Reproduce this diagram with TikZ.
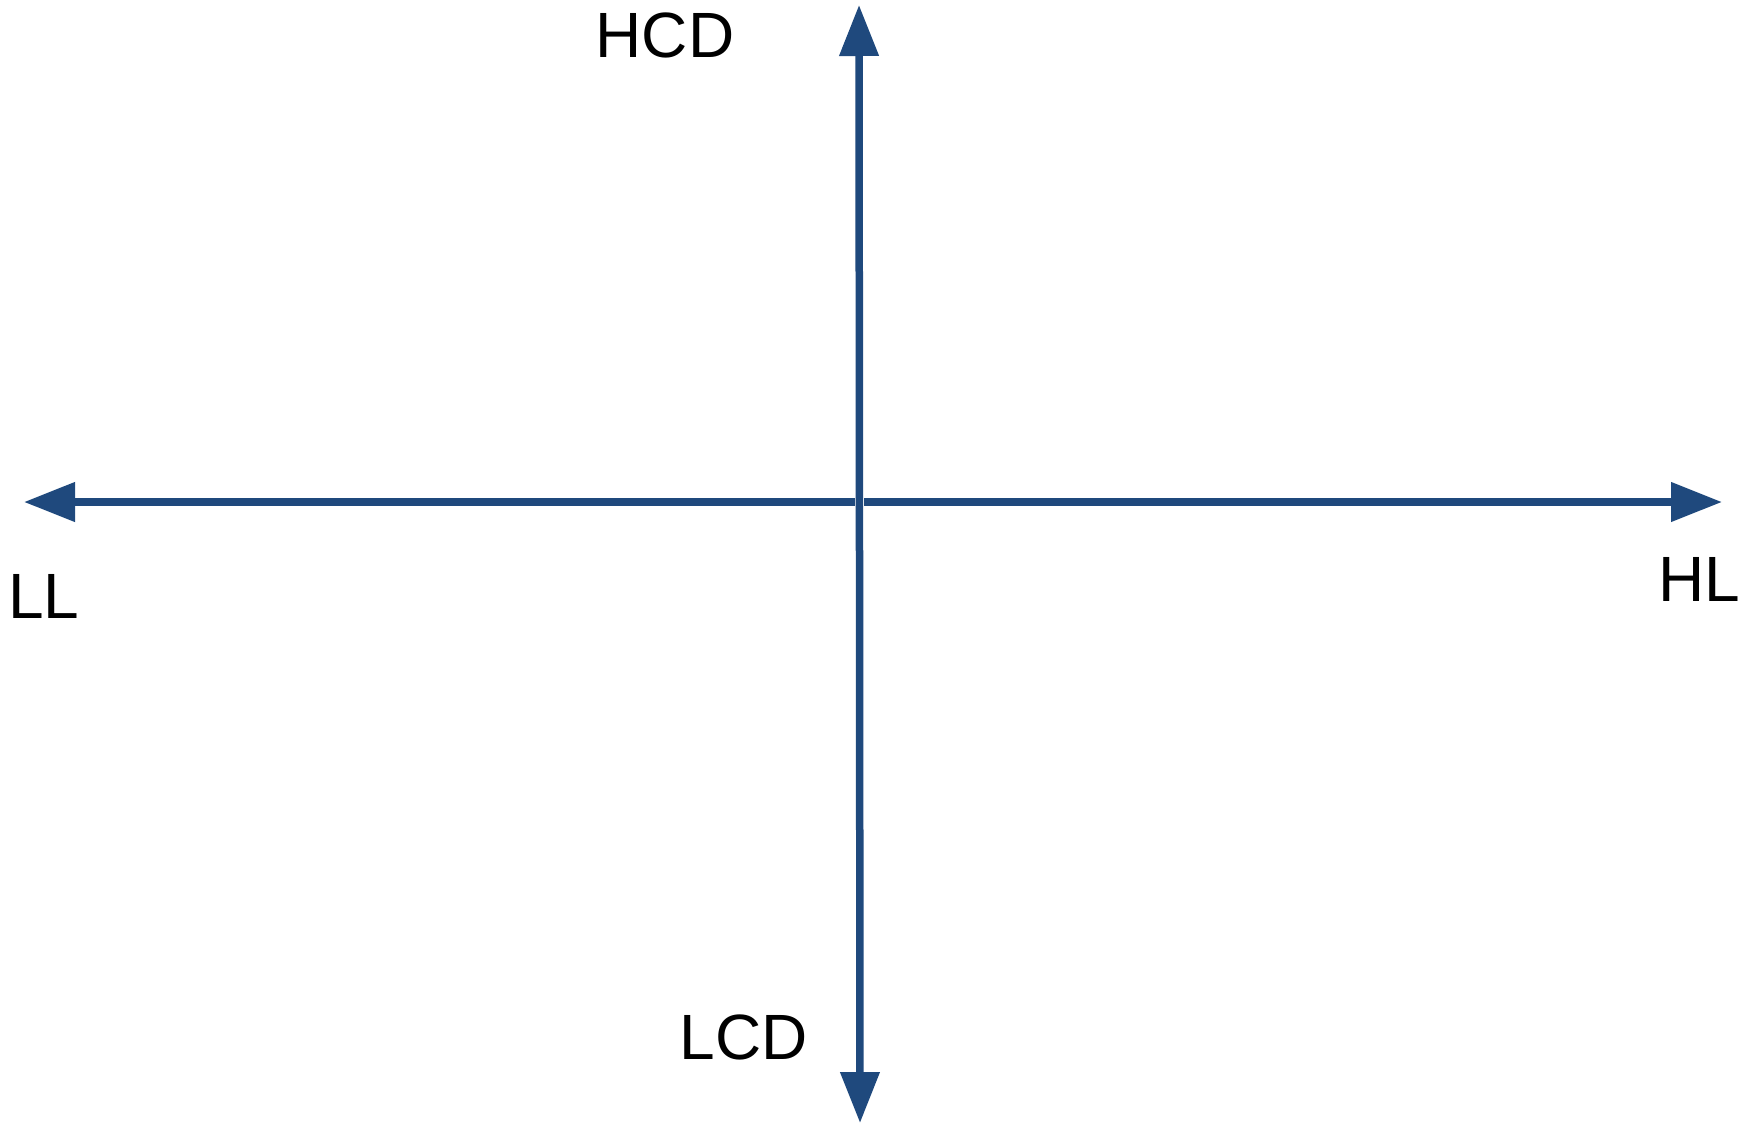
\documentclass[tikz,border=0pt]{standalone}
\usepackage{fontspec}
\setmainfont{Liberation Sans}
\usetikzlibrary{arrows.meta}
\definecolor{axisblue}{RGB}{31,73,125}
\begin{document}
\begin{tikzpicture}[x=1pt,y=-1pt,
  axis/.style={draw=axisblue,line width=7.5pt,
    {Triangle[length=51pt,width=38pt]}-{Triangle[length=51pt,width=38pt]}},
  halo/.style={preaction={draw=white,line width=8.7pt,-}},
  lbl/.style={inner sep=0pt,anchor=center,font=\fontsize{64}{76}\selectfont}]
\useasboundingbox (0,0) rectangle (1750,1125);
% axis end points
\coordinate (west) at (24,502);
\coordinate (east) at (1722,502);
\coordinate (north) at (859,5);
\coordinate (south) at (860,1123);
% axes; the vertical one sits on top with a thin white edge
\draw[axis] (west) -- (east);
\draw[axis,halo] (south) -- (north);
% labels
\node[lbl] (hcd) at (665,35) {HCD};
\node[lbl] (lcd) at (744,1037) {LCD};
\node[lbl] (ll) at (44,596) {LL};
\node[lbl] (hl) at (1699,579) {HL};
\end{tikzpicture}
\end{document}
